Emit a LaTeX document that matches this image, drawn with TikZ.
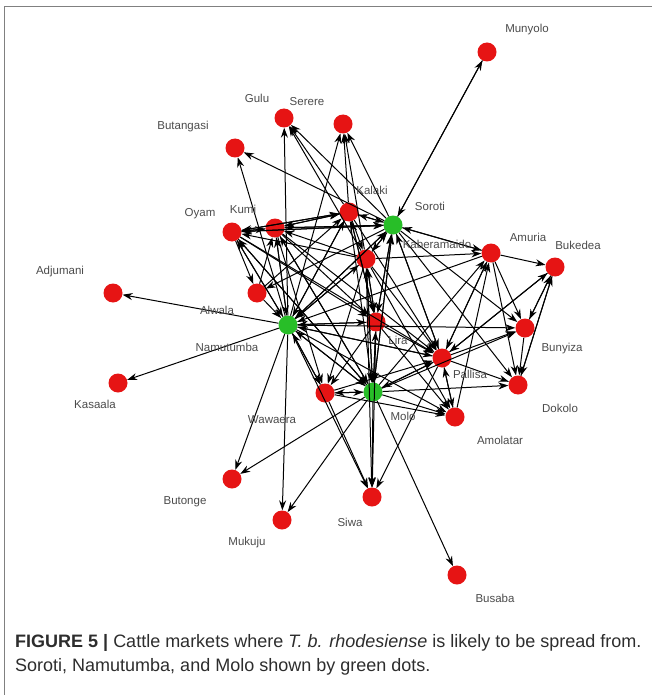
\documentclass[tikz,border=0pt]{standalone}
\usepackage{fontspec}
\setmainfont{Liberation Sans}
\usetikzlibrary{arrows.meta}
\definecolor{dotred}{RGB}{230,20,20}
\definecolor{dotgreen}{RGB}{40,190,40}
\definecolor{labelgray}{RGB}{75,75,75}
\definecolor{framegray}{RGB}{128,128,128}
\definecolor{captext}{RGB}{45,45,45}
\begin{document}
\begin{tikzpicture}[x=1pt,y=-1pt,
  market/.style={circle,fill=dotred,minimum size=19pt,inner sep=0pt},
  hub/.style={circle,fill=dotgreen,minimum size=19pt,inner sep=0pt},
  place/.style={text=labelgray,font=\fontsize{11.5}{12}\selectfont,inner sep=0pt},
  link/.style={draw=black,line width=1pt,-{Stealth[length=10pt,width=7pt]}},
]
\useasboundingbox (0,0) rectangle (652,695);
\draw[framegray,line width=1.5pt] (4.5,695) -- (4.5,6.5) -- (652,6.5);

% markets
\node[market] (mun) at (487,52) {};
\node[market] (gulu) at (284,118) {};
\node[market] (ser) at (343,124) {};
\node[market] (btg) at (235,148) {};
\node[market] (kal) at (349,212) {};
\node[hub]    (sor) at (393,225) {};
\node[market] (oya) at (232,232) {};
\node[market] (kum) at (275,228) {};
\node[market] (kab) at (366,259) {};
\node[market] (amu) at (491,253) {};
\node[market] (buk) at (555,267) {};
\node[market] (adj) at (113,293) {};
\node[market] (alw) at (257,293) {};
\node[hub]    (nam) at (288,325) {};
\node[market] (lir) at (376,322) {};
\node[market] (bun) at (525,328) {};
\node[market] (pal) at (442,358) {};
\node[market] (dok) at (518,385) {};
\node[market] (kas) at (118,383) {};
\node[market] (waw) at (325,393) {};
\node[hub]    (mol) at (373,392) {};
\node[market] (amo) at (455,417) {};
\node[market] (bul) at (232,479) {};
\node[market] (muk) at (282,520) {};
\node[market] (siw) at (372,497) {};
\node[market] (bus) at (457,575) {};

% trade links
\foreach \a/\b in {
  nam/adj, nam/kas, nam/btg, nam/gulu, nam/ser, nam/oya, nam/kum, nam/kal,
  nam/sor, nam/kab, nam/lir, nam/pal, nam/mol, nam/waw, nam/amo, nam/bul,
  nam/muk, nam/siw, nam/bun,
  oya/nam, kum/nam, alw/nam, kal/nam, sor/nam, kab/nam, lir/nam, mol/nam,
  pal/nam, waw/nam, amu/nam,
  sor/mun, mun/sor, sor/btg, sor/ser, sor/gulu, sor/kal, sor/oya, sor/kum,
  sor/kab, sor/amu, sor/bun, sor/pal, sor/lir, sor/mol, sor/dok, sor/alw,
  kal/sor, amu/sor, mol/sor, kab/sor, lir/sor, oya/sor, kum/sor, pal/sor,
  kab/amu, kab/pal, kab/siw, kab/mol, kab/oya, kab/kum, kab/ser, kab/gulu,
  kab/lir, kab/waw, kab/amo,
  kal/ser, kal/oya, kal/kum, kal/kab, kal/lir, kal/pal, kal/mol, kal/gulu,
  lir/pal, lir/mol, lir/siw, lir/amo, lir/waw, lir/kab, lir/kal,
  mol/siw, mol/bus, mol/bul, mol/muk, mol/amo, mol/dok, mol/pal, mol/waw,
  mol/lir, mol/kab, mol/amu, mol/bun, mol/kum, mol/oya,
  pal/siw, pal/dok, pal/amo, pal/bun, pal/buk, pal/mol, pal/amu,
  amu/buk, amu/bun, amu/dok, amu/pal,
  buk/bun, buk/dok, buk/pal, dok/buk, bun/dok, bun/buk,
  oya/kum, oya/kal, oya/lir, oya/pal, oya/mol, oya/alw,
  kum/oya, kum/kal, kum/lir, kum/pal, kum/mol, kum/waw,
  alw/kal, alw/kum, waw/mol, waw/siw, waw/pal, waw/amo, amo/pal, amo/amu}
  \draw[link] (\a) -- (\b);

% market names
\node[place] at (527,30)  {Munyolo};
\node[place] at (257,98)  {Gulu};
\node[place] at (307,102) {Serere};
\node[place] at (183,127) {Butangasi};
\node[place] at (372,190) {Kalaki};
\node[place] at (430,206) {Soroti};
\node[place] at (200,214) {Oyam};
\node[place] at (243,209) {Kumi};
\node[place] at (437,244) {Kaberamaido};
\node[place] at (528,237) {Amuria};
\node[place] at (578,245) {Bukedea};
\node[place] at (60,272)  {Adjumani};
\node[place] at (217,310) {Alwala};
\node[place] at (227,347) {Namutumba};
\node[place] at (398,340) {Lira};
\node[place] at (562,349) {Bunyiza};
\node[place] at (470,374) {Pallisa};
\node[place] at (560,408) {Dokolo};
\node[place] at (95,404)  {Kasaala};
\node[place] at (272,420) {Wawaera};
\node[place] at (403,416) {Molo};
\node[place] at (500,440) {Amolatar};
\node[place] at (185,502) {Butonge};
\node[place] at (247,543) {Mukuju};
\node[place] at (350,522) {Siwa};
\node[place] at (495,598) {Busaba};

% caption (base anchor sits on the last line)
\node[anchor=base west,inner sep=0pt,text=captext,font=\fontsize{18}{24}\selectfont,align=left]
  (cap) at (15,671) {\textbf{FIGURE 5 |} Cattle markets where \textit{T. b. rhodesiense} is likely to be spread from.\\
  Soroti, Namutumba, and Molo shown by green dots.};
\end{tikzpicture}
\end{document}
